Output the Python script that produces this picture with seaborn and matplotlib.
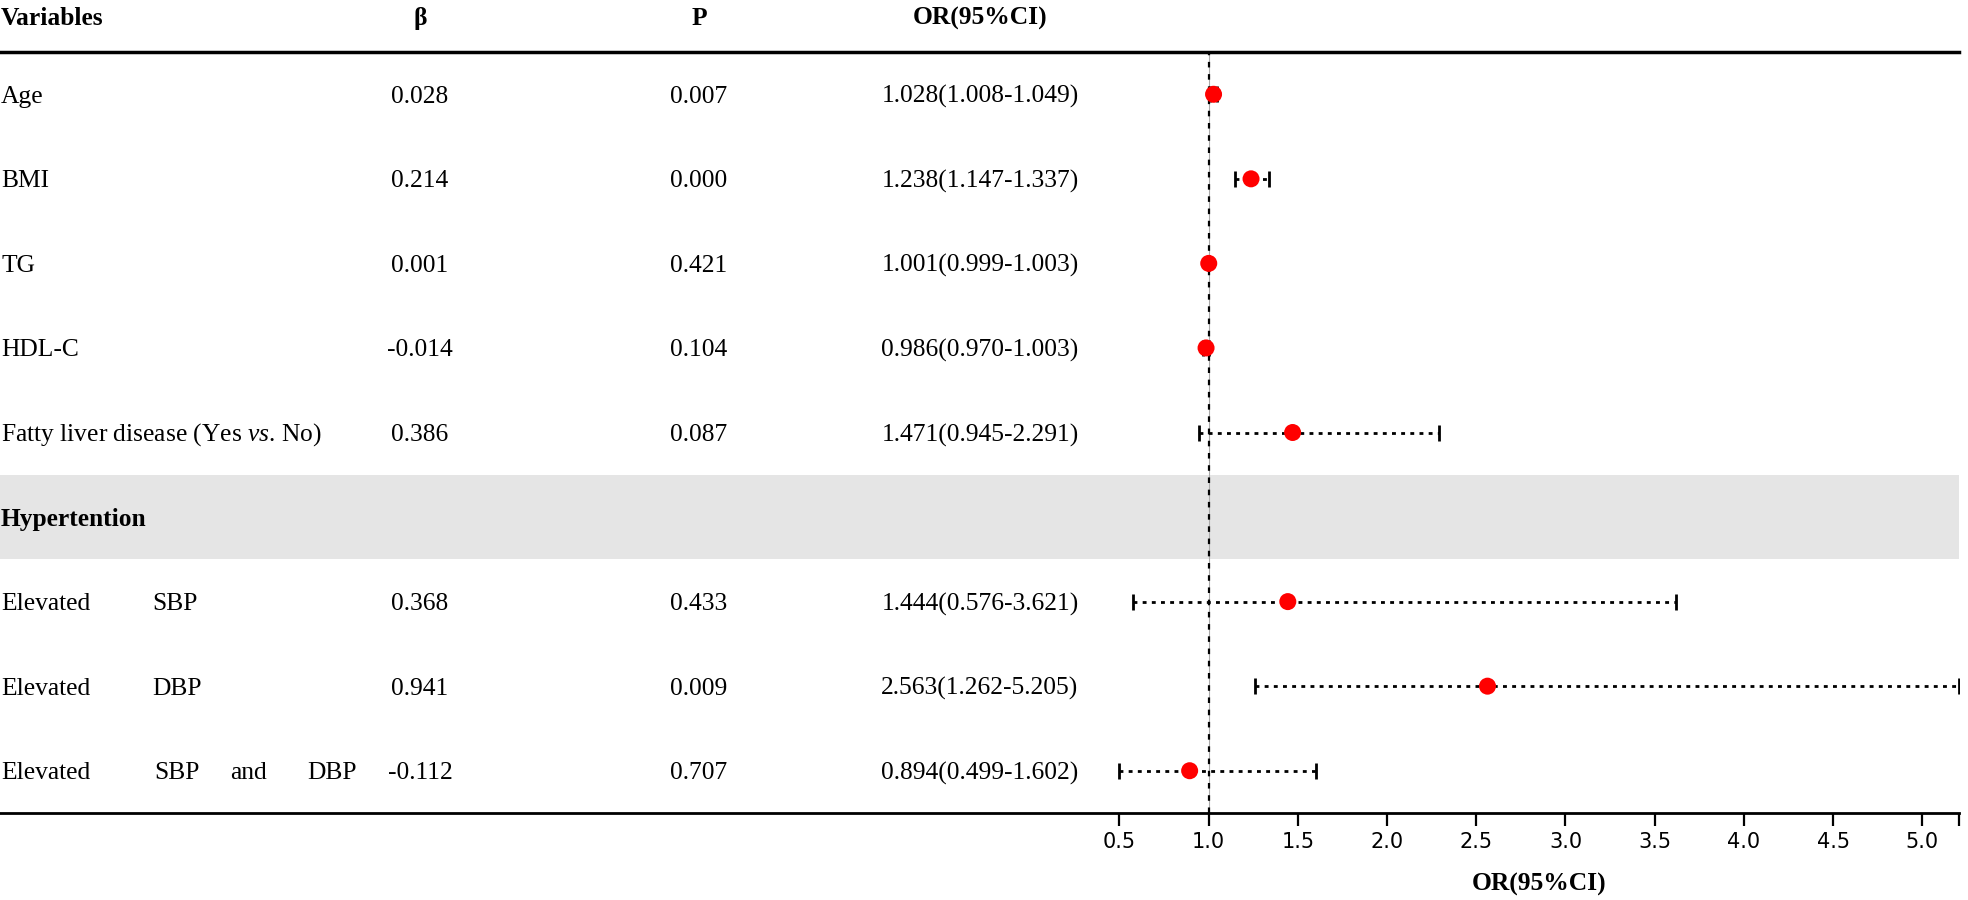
import numpy as np
import pandas as pd
import matplotlib
matplotlib.use("Agg")
import matplotlib.pyplot as plt
import matplotlib.transforms as mtransforms
import seaborn as sns

# --- table data ---
variables = ["Age", "BMI", "TG", "HDL-C", "Fatty liver disease (Yes vs. No)",
             "Hypertention", "Elevated SBP", "Elevated DBP", "Elevated SBP and DBP"]
beta = ["0.028", "0.214", "0.001", "-0.014", "0.386", "", "0.368", "0.941", "-0.112"]
pvals = ["0.007", "0.000", "0.421", "0.104", "0.087", "", "0.433", "0.009", "0.707"]
or_val = [1.028, 1.238, 1.001, 0.986, 1.471, np.nan, 1.444, 2.563, 0.894]
ci_low = [1.008, 1.147, 0.999, 0.970, 0.945, np.nan, 0.576, 1.262, 0.499]
ci_high = [1.049, 1.337, 1.003, 1.003, 2.291, np.nan, 3.621, 5.205, 1.602]
headers = ["Variables", "β", "P", "OR(95%CI)"]
xticks = [0.5, 1.0, 1.5, 2.0, 2.5, 3.0, 3.5, 4.0, 4.5, 5.0]

df = pd.DataFrame({"var": variables, "beta": beta, "p": pvals,
                   "or": or_val, "lo": ci_low, "hi": ci_high})
df["row"] = np.arange(len(df))
pts = df.dropna(subset=["or"])

# --- style ---
sns.set_theme(style="white")
plt.rcParams["font.family"] = ["Liberation Serif", "DejaVu Serif"]
plt.rcParams["text.color"] = "black"
plt.rcParams["xtick.color"] = "black"
plt.rcParams["mathtext.fontset"] = "custom"
plt.rcParams["mathtext.rm"] = "Liberation Serif"
plt.rcParams["mathtext.it"] = "Liberation Serif:italic"
plt.rcParams["mathtext.bf"] = "Liberation Serif:bold"

W, H = 1968, 900
fig = plt.figure(figsize=(W / 100, H / 100), dpi=100)
# axes spans the whole table width; forest part lives at x >= 0.5
ax = fig.add_axes([0, (H - 813) / H, 1959 / W, (813 - 52) / H])

# gray band for the group row
ax.axhspan(4.5, 5.5, color="#e5e5e5", zorder=0, lw=0)

# reference line at OR = 1
ax.axvline(1, color="#aaaaaa", lw=0.8, zorder=1)
ax.axvline(1, color="black", lw=1.6, ls=(0, (2.5, 3)), zorder=2)

# confidence intervals
eb = ax.errorbar(pts["or"], pts["row"],
                 xerr=[pts["or"] - pts["lo"], pts["hi"] - pts["or"]],
                 fmt="none", ecolor="black", elinewidth=2, capsize=6, capthick=2, zorder=3)
eb.lines[2][0].set_linestyle((0, (1.4, 1.9)))

sns.scatterplot(data=pts, x="or", y="row", color="red", s=150, edgecolor="none",
                zorder=4, ax=ax, legend=False)

ax.set_xlim(-5.772, 5.205)
ax.set_ylim(8.5, -0.5)
ax.set_xlabel("")
ax.set_ylabel("")
ax.set_yticks([])

for s in ["left", "right"]:
    ax.spines[s].set_visible(False)
ax.spines["top"].set_linewidth(2.5)
ax.spines["bottom"].set_linewidth(2)
ax.spines["top"].set_color("black")
ax.spines["bottom"].set_color("black")

ax.set_xticks(xticks)
ax.set_xticklabels([f"{t:.1f}" for t in xticks], family=["DejaVu Sans"], fontsize=15,
                   color="black")
ax.set_xticks([5.205], minor=True)
ax.tick_params(axis="x", which="both", bottom=True, direction="out", length=9.5,
               width=1.6, color="black", pad=4)
ax.tick_params(axis="x", which="minor", labelbottom=False)

# --- table text ---
tr = mtransforms.blended_transform_factory(fig.transFigure, ax.transData)
fs = 18.4
col_x = [1, 420, 699, 980]
head_y = -0.90
dy = 0.03
for i, h in enumerate(headers):
    ax.text(col_x[i] / W, head_y, h, transform=tr, fontsize=fs, fontweight="bold",
            ha="left" if i == 0 else "center", va="center")

word_x = {"Elevated SBP": [1, 152], "Elevated DBP": [1, 152],
          "Elevated SBP and DBP": [1, 154, 230, 307]}
for _, r in df.iterrows():
    y = r["row"] + dy
    name = r["var"]
    if name == "Hypertention":
        ax.text(col_x[0] / W, y, name, transform=tr, fontsize=fs, fontweight="bold",
                ha="left", va="center")
        continue
    if name in word_x:
        for w, px in zip(name.split(), word_x[name]):
            ax.text(px / W, y, w, transform=tr, fontsize=fs, ha="left", va="center")
    else:
        txt = name.replace("vs.", r"$\mathit{vs}$.")
        ax.text(col_x[0] / W, y, txt, transform=tr, fontsize=fs, ha="left", va="center")
    ax.text(col_x[1] / W, y, r["beta"], transform=tr, fontsize=fs, ha="center", va="center")
    ax.text(col_x[2] / W, y, r["p"], transform=tr, fontsize=fs, ha="center", va="center")
    ax.text(col_x[3] / W, y, f"{r['or']:.3f}({r['lo']:.3f}-{r['hi']:.3f})", transform=tr,
            fontsize=fs, ha="center", va="center")

fig.text(1539 / W, 1 - 884 / H, "OR(95%CI)", fontsize=fs, fontweight="bold",
         ha="center", va="center")

fig.savefig("out.png", dpi=100)
